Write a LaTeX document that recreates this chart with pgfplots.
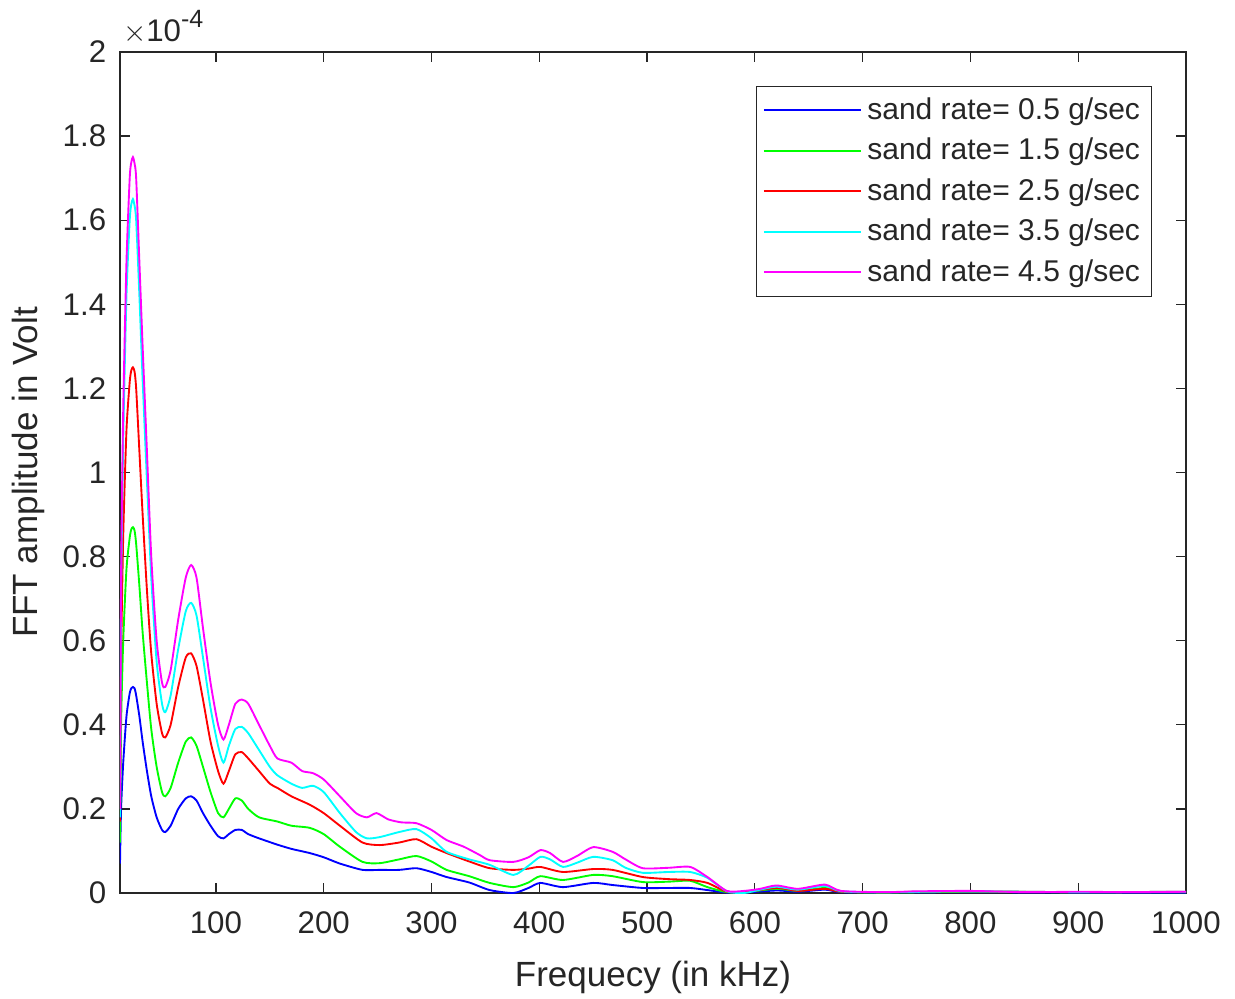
\documentclass[border=0pt]{standalone}
\usepackage{pgfplots}
\pgfplotsset{compat=1.18}
\usepackage{fontspec}
\setmainfont{Liberation Sans}
\definecolor{mgray}{rgb}{0.15,0.15,0.15}
\definecolor{mblue}{rgb}{0,0,1}
\definecolor{mgreen}{rgb}{0,1,0}
\definecolor{mred}{rgb}{1,0,0}
\definecolor{mcyan}{rgb}{0,1,1}
\definecolor{mmag}{rgb}{1,0,1}
\begin{document}
\begin{tikzpicture}
\begin{axis}[
  scale only axis,
  width=426.4pt, height=336.4pt,
  xmin=11, xmax=1000, ymin=0, ymax=2,
  xtick={100,200,...,1000},
  ytick={0,0.2,...,2},
  yticklabels={0,0.2,0.4,0.6,0.8,1,1.2,1.4,1.6,1.8,2},
  xticklabels={100,200,300,400,500,600,700,800,900,1000},
  tick align=inside,
  axis line style={mgray, line width=0.5pt},
  every tick/.style={mgray, line width=0.5pt},
  major tick length=4pt,
  /pgf/number format/assume math mode=true,
  /pgf/number format/1000 sep={},
  ticklabel style={font=\fontsize{12.5}{14}\selectfont, text=mgray},
  xticklabel style={yshift=-4pt},
  yticklabel style={xshift=-2pt},
  xlabel={Frequecy (in kHz)},
  ylabel={FFT amplitude in Volt},
  label style={font=\fontsize{14}{16}\selectfont, text=mgray},
  xlabel style={at={(axis description cs:0.5,-0.0999)}, anchor=center},
  ylabel style={at={(axis description cs:-0.0863,0.5)}, anchor=center},
  legend style={at={(0.968,0.96)}, anchor=north east, draw=mgray, line width=0.5pt,
    font=\fontsize{12}{14}\selectfont, text=mgray, row sep=2pt, inner sep=2.5pt},
  legend cell align=left,
  legend image code/.code={\draw[#1, line width=0.75pt] (0pt,0pt) -- (39pt,0pt);},
  every axis plot/.append style={line width=0.75pt, smooth, tension=0.4},
]
% blue 0.5
\addplot[color=mblue] coordinates {
(11,0.07)(12,0.2)(14,0.31)(17,0.42)(20,0.475)(21.5,0.487)(23,0.49)(24.5,0.487)(26,0.47)(29,0.42)(32,0.36)(36,0.29)(40,0.23)(45,0.18)(50,0.15)(53,0.145)(58,0.16)(65,0.2)(72,0.225)(77,0.23)(82,0.22)(88,0.19)(95,0.16)(102,0.135)(107,0.13)(112,0.14)(118,0.15)(124,0.15)(130,0.14)(140,0.13)(157,0.115)(170,0.105)(187,0.095)(200,0.085)(215,0.07)(236,0.055)(252,0.055)(270,0.055)(286,0.059)(300,0.05)(314,0.038)(335,0.025)(354,0.007)(376,0.0)(390,0.012)(401,0.024)(422,0.014)(450,0.024)(468,0.019)(496,0.012)(520,0.012)(540,0.012)(556,0.007)(574,0.001)(590,0.001)(620,0.006)(640,0.003)(665,0.008)(680,0.002)(720,0.001)(800,0.002)(900,0.001)(1000,0.001)};
% green 1.5
\addplot[color=mgreen] coordinates {
(11,0.12)(12,0.4)(14,0.6)(17,0.77)(20,0.845)(21.5,0.865)(23,0.87)(24.5,0.862)(26,0.83)(29,0.73)(32,0.62)(36,0.5)(40,0.39)(45,0.3)(50,0.24)(53,0.23)(58,0.25)(65,0.31)(72,0.36)(77,0.37)(82,0.35)(88,0.3)(95,0.24)(102,0.19)(107,0.18)(112,0.2)(118,0.225)(124,0.22)(130,0.2)(140,0.18)(157,0.17)(170,0.16)(187,0.155)(200,0.14)(215,0.11)(236,0.074)(252,0.071)(270,0.08)(286,0.088)(300,0.075)(314,0.055)(335,0.04)(354,0.024)(376,0.014)(390,0.025)(401,0.04)(422,0.031)(450,0.043)(468,0.04)(496,0.026)(520,0.027)(540,0.029)(556,0.014)(574,0.002)(590,0.002)(620,0.01)(640,0.005)(665,0.012)(680,0.003)(720,0.001)(800,0.003)(900,0.002)(1000,0.002)};
% red 2.5
\addplot[color=mred] coordinates {
(11,0.17)(12,0.55)(14,0.85)(17,1.1)(20,1.215)(21.5,1.243)(23,1.25)(24.5,1.24)(26,1.2)(29,1.05)(32,0.9)(36,0.72)(40,0.57)(45,0.45)(50,0.38)(53,0.37)(58,0.4)(65,0.49)(72,0.56)(77,0.57)(82,0.54)(88,0.46)(95,0.36)(102,0.29)(107,0.26)(112,0.29)(118,0.33)(124,0.335)(130,0.32)(140,0.29)(150,0.26)(157,0.25)(170,0.23)(187,0.21)(200,0.19)(215,0.16)(236,0.12)(252,0.114)(270,0.12)(286,0.128)(300,0.11)(314,0.095)(335,0.075)(354,0.059)(376,0.055)(390,0.058)(401,0.062)(422,0.05)(450,0.057)(468,0.055)(496,0.038)(520,0.033)(540,0.031)(556,0.024)(574,0.003)(590,0.002)(620,0.012)(640,0.005)(665,0.01)(680,0.003)(720,0.002)(800,0.004)(900,0.002)(1000,0.003)};
% cyan 3.5
\addplot[color=mcyan] coordinates {
(11,0.18)(12,0.7)(14,1.08)(17,1.42)(20,1.6)(21.5,1.638)(23,1.65)(24.5,1.635)(26,1.6)(29,1.42)(32,1.22)(36,0.98)(40,0.75)(45,0.55)(50,0.45)(53,0.43)(58,0.47)(65,0.58)(72,0.67)(77,0.69)(82,0.66)(88,0.56)(95,0.44)(102,0.35)(107,0.31)(112,0.35)(118,0.39)(124,0.395)(130,0.38)(140,0.34)(150,0.3)(157,0.28)(170,0.26)(180,0.25)(190,0.255)(200,0.24)(215,0.19)(230,0.145)(240,0.13)(252,0.133)(270,0.145)(286,0.152)(300,0.13)(314,0.098)(335,0.08)(354,0.067)(376,0.043)(390,0.065)(401,0.086)(410,0.08)(422,0.062)(435,0.072)(450,0.086)(468,0.078)(480,0.06)(496,0.048)(520,0.05)(540,0.05)(556,0.036)(574,0.004)(590,0.0)(605,0.008)(620,0.015)(640,0.008)(665,0.017)(680,0.004)(720,0.002)(800,0.004)(900,0.002)(1000,0.003)};
% magenta 4.5
\addplot[color=mmag] coordinates {
(11,0.2)(12,0.75)(14,1.15)(17,1.5)(20,1.7)(21.5,1.738)(23,1.75)(24.5,1.735)(26,1.7)(29,1.5)(32,1.3)(36,1.05)(40,0.8)(45,0.6)(50,0.5)(53,0.49)(58,0.53)(65,0.65)(72,0.75)(77,0.78)(82,0.75)(88,0.63)(95,0.5)(102,0.4)(107,0.365)(112,0.4)(118,0.45)(124,0.46)(130,0.45)(140,0.4)(150,0.35)(157,0.32)(170,0.31)(180,0.29)(190,0.285)(200,0.27)(215,0.23)(230,0.19)(240,0.18)(249,0.19)(260,0.175)(272,0.168)(286,0.166)(300,0.15)(314,0.126)(330,0.11)(345,0.09)(354,0.078)(376,0.074)(390,0.085)(401,0.102)(410,0.095)(422,0.074)(435,0.088)(450,0.109)(468,0.098)(480,0.08)(496,0.059)(520,0.06)(540,0.062)(556,0.038)(574,0.005)(590,0.005)(605,0.01)(620,0.018)(640,0.01)(665,0.02)(680,0.005)(720,0.002)(750,0.004)(800,0.005)(850,0.002)(900,0.003)(950,0.002)(1000,0.003)};
\legend{sand rate= 0.5 g/sec, sand rate= 1.5 g/sec, sand rate= 2.5 g/sec, sand rate= 3.5 g/sec, sand rate= 4.5 g/sec}
\end{axis}
\node[text=mgray, font=\fontsize{12.5}{14}\selectfont, anchor=south west, inner sep=0pt] at ([xshift=1pt, yshift=3pt]current axis.north west) {$\times$10\raisebox{0.45em}{\fontsize{10}{12}\selectfont -4}};
\pgfresetboundingbox
\path ([xshift=-48pt, yshift=-42pt]current axis.south west) rectangle ([xshift=19.6pt, yshift=20.8pt]current axis.north east);
\end{tikzpicture}
\end{document}
